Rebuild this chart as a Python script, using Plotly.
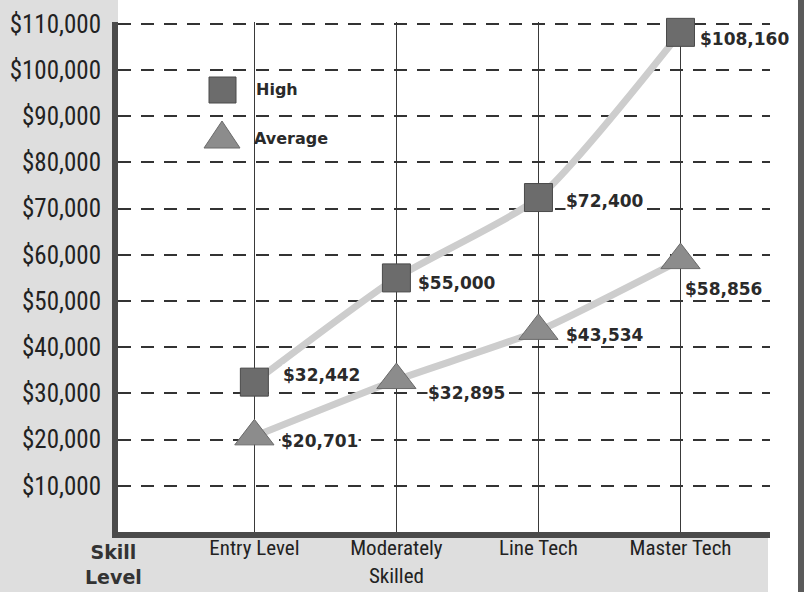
import plotly.graph_objects as go

categories = ["Entry Level", "Moderately<br>Skilled", "Line Tech", "Master Tech"]
high_values = [32442, 55000, 72400, 108160]
avg_values = [20701, 32895, 43534, 58856]
high_labels = ["$32,442", "$55,000", "$72,400", "$108,160"]
avg_labels = ["$20,701", "$32,895", "$43,534", "$58,856"]
y_tickvals = [10000, 20000, 30000, 40000, 50000, 60000, 70000, 80000, 90000, 100000, 110000]
y_ticktext = ["$10,000", "$20,000", "$30,000", "$40,000", "$50,000", "$60,000",
              "$70,000", "$80,000", "$90,000", "$100,000", "$110,000"]

# label pixel offsets (style only)
high_shift = [(28, 7), (21, -5), (27, -3), (18, -7)]
avg_shift = [(26, -5), (31, -13), (27, -4), (3, -29)]

W, H = 804, 592
L, R, T, B = 118, 34, 22, 60
pw, ph = W - L - R, H - T - B

def px(x):
    return (x - L) / pw

def py(y):
    return (H - B - y) / ph

NARROW = "Liberation Sans Narrow, Roboto Condensed, DejaVu Sans Condensed, sans-serif"
BOLD = "DejaVu Sans, Arial Black, sans-serif"

fig = go.Figure()

fig.add_trace(go.Scatter(
    x=categories, y=avg_values, mode="lines+markers",
    line=dict(color="#cdcdcd", width=7, shape="spline", smoothing=0.5),
    marker=dict(symbol="triangle-up", size=34, color="#8c8c8c",
                line=dict(color="#6a6a6a", width=1)),
    cliponaxis=False, showlegend=False, name="Average",
))
fig.add_trace(go.Scatter(
    x=categories, y=high_values, mode="lines+markers",
    line=dict(color="#cdcdcd", width=7, shape="spline", smoothing=0.6),
    marker=dict(symbol="square", size=28, color="#6c6c6c",
                line=dict(color="#4a4a4a", width=1)),
    cliponaxis=False, showlegend=False, name="High",
))

shapes = [
    dict(type="rect", xref="paper", yref="paper", x0=px(0), x1=px(L), y0=py(H), y1=py(0),
         fillcolor="#dedede", line_width=0, layer="below"),
    dict(type="rect", xref="paper", yref="paper", x0=px(0), x1=px(768), y0=py(H), y1=py(H - B),
         fillcolor="#dedede", line_width=0, layer="below"),
    dict(type="rect", xref="paper", yref="paper", x0=px(798), x1=px(805), y0=py(H), y1=py(0),
         fillcolor="#5a5a5a", line_width=0, layer="below"),
    dict(type="rect", xref="paper", yref="paper", x0=px(193), x1=px(345), y0=py(168), y1=py(58),
         fillcolor="white", line_width=0, layer="between"),
    dict(type="rect", xref="paper", yref="paper", x0=px(209), x1=px(236), y0=py(103), y1=py(77),
         fillcolor="#6c6c6c", line=dict(color="#4a4a4a", width=1), layer="above"),
    dict(type="path", xref="paper", yref="paper",
         path=f"M {px(204)} {py(148)} L {px(240)} {py(148)} L {px(222)} {py(121)} Z",
         fillcolor="#8c8c8c", line=dict(color="#6a6a6a", width=1), layer="above"),
]

annotations = [
    dict(text="<b>High</b>", xref="paper", yref="paper", x=px(254), y=py(90),
         xanchor="left", yanchor="middle", showarrow=False,
         font=dict(family=BOLD, size=16, color="#2a2a2a")),
    dict(text="<b>Average</b>", xref="paper", yref="paper", x=px(252), y=py(138),
         xanchor="left", yanchor="middle", showarrow=False,
         font=dict(family=BOLD, size=16, color="#2a2a2a")),
    dict(text="<b>Skill<br>Level</b>", xref="paper", yref="paper", x=px(113), y=py(564),
         xanchor="center", yanchor="middle", showarrow=False,
         font=dict(family=BOLD, size=19, color="#333333"), align="center"),
]

for cats, vals, labels, shifts in [(categories, high_values, high_labels, high_shift),
                                    (categories, avg_values, avg_labels, avg_shift)]:
    for c, v, t, (dx, dy) in zip(cats, vals, labels, shifts):
        annotations.append(dict(
            x=c, y=v, xref="x", yref="y", text=f"<b>{t}</b>", showarrow=False,
            xanchor="left", yanchor="middle", xshift=dx, yshift=dy,
            bgcolor="white", borderpad=0,
            font=dict(family=BOLD, size=17, color="#2a2a2a"),
        ))

fig.update_layout(
    width=W, height=H,
    margin=dict(l=L, r=R, t=T, b=B, pad=0, autoexpand=False),
    paper_bgcolor="white", plot_bgcolor="white",
    shapes=shapes, annotations=annotations,
    showlegend=False,
    xaxis=dict(
        type="category", range=[-0.96, 3.63], automargin=False,
        showgrid=True, gridcolor="#3a3a3a", gridwidth=1.3,
        showline=True, linecolor="#4a4a4a", linewidth=6,
        ticks="", ticklabelstandoff=-8,
        tickfont=dict(family=NARROW, size=21, color="#222222"),
        zeroline=False, fixedrange=True,
    ),
    yaxis=dict(
        range=[0, 110400], automargin=False,
        tickvals=y_tickvals, ticktext=y_ticktext,
        showgrid=True, gridcolor="#333333", gridwidth=1.6, griddash="13px,10px",
        showline=True, linecolor="#4a4a4a", linewidth=6,
        ticks="outside", ticklen=6, tickcolor="rgba(0,0,0,0)",
        tickfont=dict(family=NARROW, size=25, color="#222222"),
        zeroline=False, fixedrange=True,
    ),
)

fig.write_html("out.html", config={"displayModeBar": False},
               post_script="document.body.style.margin='0';")
